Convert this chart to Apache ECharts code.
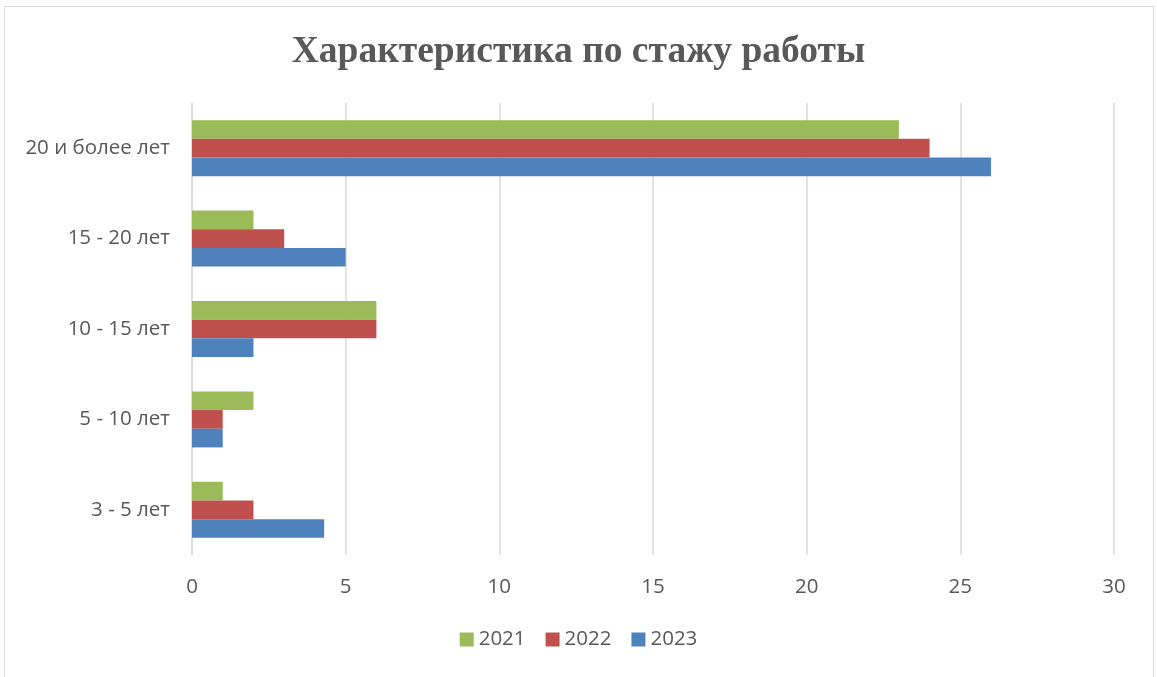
<!DOCTYPE html>
<html lang="ru">
<head>
    <meta charset="UTF-8">
    <title>Характеристика по стажу работы</title>
    <script src="https://cdn.jsdelivr.net/npm/echarts@6/dist/echarts.min.js"></script>
    <style>
        html, body { margin: 0; padding: 0; background: #fff; }
        #frame {
            position: absolute; left: 4px; top: 6px;
            width: 1150px; height: 690px;
            border: 1px solid #d9d9d9; box-sizing: border-box;
        }
        #chart { position: absolute; left: 0; top: 0; width: 1157px; height: 677px; }
    </style>
</head>
<body>
<div id="frame"></div>
<div id="chart"></div>
<script>
    // data
    var categories = ['3 - 5 лет', '5 - 10 лет', '10 - 15 лет', '15 - 20 лет', '20 и более лет'];
    var years = ['2021', '2022', '2023'];
    var v2021 = [1, 2, 6, 2, 23];
    var v2022 = [2, 1, 6, 3, 24];
    var v2023 = [4.3, 1, 2, 5, 26];
    var xTicks = [0, 5, 10, 15, 20, 25, 30];

    var colors = { '2021': '#9bbb59', '2022': '#c0504d', '2023': '#4f81bd' };
    var values = { '2021': v2021, '2022': v2022, '2023': v2023 };

    var chart = echarts.init(document.getElementById('chart'));

    // first series ends up on top of each group
    var series = years.map(function (y) {
        return {
            name: y,
            type: 'bar',
            barGap: '0%',
            barCategoryGap: '38%',
            itemStyle: { color: colors[y] },
            data: values[y]
        };
    });

    var option = {
        animation: false,
        textStyle: { fontFamily: 'Open Sans' },
        title: {
            text: 'Характеристика по стажу работы',
            left: 'center',
            top: 28,
            textStyle: {
                fontFamily: 'Liberation Serif',
                fontWeight: 'bold',
                fontSize: 37.5,
                color: '#595959'
            }
        },
        legend: {
            data: years,
            bottom: 22,
            left: 'center',
            itemWidth: 14,
            itemHeight: 14,
            itemGap: 20,
            icon: 'rect',
            textStyle: { fontSize: 20.5, color: '#595959' }
        },
        grid: { left: 192, right: 43, top: 103, bottom: 122 },
        xAxis: {
            type: 'value',
            min: xTicks[0],
            max: xTicks[xTicks.length - 1],
            interval: 5,
            axisLine: { show: false },
            axisTick: { show: false },
            axisLabel: { fontSize: 20.5, color: '#595959', margin: 22 },
            splitLine: { lineStyle: { color: '#d9d9d9', width: 1.5 } }
        },
        yAxis: {
            type: 'category',
            data: categories,
            axisLine: { lineStyle: { color: '#d9d9d9', width: 1.5 } },
            axisTick: { show: false },
            axisLabel: { fontSize: 20.5, color: '#595959', margin: 22 }
        },
        series: series
    };

    chart.setOption(option);
</script>
</body>
</html>
